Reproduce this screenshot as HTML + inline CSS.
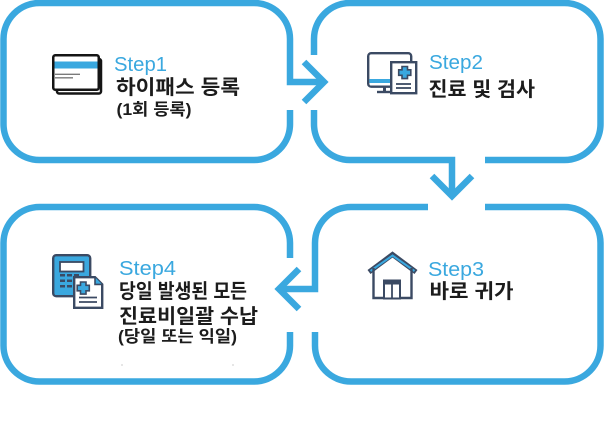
<!DOCTYPE html>
<html>
<head>
<meta charset="utf-8">
<style>
  html,body{margin:0;padding:0;background:#fff;}
  body{width:604px;height:430px;overflow:hidden;}
  svg{display:block;}
  .step{font-family:"Liberation Sans","Noto Sans CJK KR",sans-serif;font-size:20.5px;fill:#3aa8df;}
  .ko{font-family:"Liberation Sans","Noto Sans CJK KR",sans-serif;font-weight:bold;font-size:20px;fill:#1c1c1c;}
  .ks{font-family:"Liberation Sans","Noto Sans CJK KR",sans-serif;font-weight:bold;font-size:16.5px;fill:#1c1c1c;}
</style>
</head>
<body>
<svg width="604" height="430" viewBox="0 0 604 430" xmlns="http://www.w3.org/2000/svg">
  <g fill="none" stroke="#3aa8df" stroke-width="6.5" stroke-linejoin="miter" stroke-linecap="butt">
    <!-- Box 1 -->
    <path d="M290,110 V124 A36,36 0 0 1 254,160 H39.5 A36,36 0 0 1 3.5,124 V39 A36,36 0 0 1 39.5,3 H254 A36,36 0 0 1 290,39 V82 H324"/>
    <path d="M304,62 L324,82 L304,102"/>
    <!-- Box 2 -->
    <path d="M314,55 V39 A36,36 0 0 1 350,3 H564.5 A36,36 0 0 1 600.5,39 V124 A36,36 0 0 1 564.5,160 H485"/>
    <path d="M314,110 V124 A36,36 0 0 0 350,160 H452 V196"/>
    <path d="M432,176 L452,196 L472,176"/>
    <!-- Box 3 -->
    <path d="M428,207 H351 A36,36 0 0 0 315,243 V289 H279"/>
    <path d="M299,269 L279,289 L299,309"/>
    <path d="M485,207 H564.5 A36,36 0 0 1 600.5,243 V345 A36,36 0 0 1 564.5,381.5 H351 A36,36 0 0 1 315,345 V332"/>
    <!-- Box 4 -->
    <path d="M290,258 V243 A36,36 0 0 0 254,207 H39.5 A36,36 0 0 0 3.5,243 V345 A36,36 0 0 0 39.5,381.5 H254 A36,36 0 0 0 290,345 V332"/>
  </g>

  <!-- Icon 1: cards -->
  <rect x="57" y="59" width="44" height="34.5" rx="2" fill="#fff" stroke="#151515" stroke-width="2.5"/>
  <rect x="53.25" y="55.25" width="45.5" height="34.5" rx="2" fill="#fff" stroke="#151515" stroke-width="2.5"/>
  <rect x="54.5" y="61.5" width="43" height="7" fill="#3aa8df"/>
  <line x1="55" y1="74.3" x2="80" y2="74.3" stroke="#7a7a7a" stroke-width="1.3"/>
  <line x1="55" y1="77.8" x2="73" y2="77.8" stroke="#7a7a7a" stroke-width="1.3"/>

  <!-- Icon 2: monitor + document -->
  <rect x="368.2" y="53.2" width="43" height="33.5" rx="3" fill="#fff" stroke="#3b4a63" stroke-width="2.4"/>
  <rect x="369.4" y="79" width="22" height="4" fill="#3aa8df"/>
  <rect x="383" y="87" width="3" height="4" fill="#3b4a63"/>
  <line x1="377" y1="92" x2="392" y2="92" stroke="#3b4a63" stroke-width="2.4"/>
  <rect x="391.2" y="62.2" width="25" height="31" fill="#fff" stroke="#3b4a63" stroke-width="2.4"/>
  <path d="M402,66.5 h5.5 v3.3 h3.3 v5.5 h-3.3 v3.3 h-5.5 v-3.3 h-3.3 v-5.5 h3.3 z" fill="#3aa8df" stroke="#3b4a63" stroke-width="1.6"/>
  <line x1="396" y1="84" x2="411" y2="84" stroke="#3b4a63" stroke-width="1.8"/>
  <line x1="396" y1="88" x2="411" y2="88" stroke="#3b4a63" stroke-width="1.8"/>

  <!-- Icon 3: house -->
  <path d="M369,272 L392.5,254.5 L416,272" fill="none" stroke="#3b4a63" stroke-width="5" stroke-linejoin="miter"/>
  <path d="M370.5,271 L392.5,255.5 L414.5,271" fill="none" stroke="#3aa8df" stroke-width="2"/>
  <path d="M373.5,268 V298 H411.5 V268" fill="none" stroke="#3b4a63" stroke-width="2.4"/>
  <rect x="384" y="280.5" width="16" height="18" fill="#fff" stroke="#3b4a63" stroke-width="2"/>
  <rect x="385" y="281.5" width="14" height="3" fill="#3b4a63"/>
  <line x1="392" y1="284" x2="392" y2="298" stroke="#3b4a63" stroke-width="1.8"/>

  <!-- Icon 4: calculator + document -->
  <rect x="53.2" y="255.2" width="37" height="41" rx="3" fill="#3aa8df" stroke="#3b4a63" stroke-width="2.4"/>
  <rect x="60" y="262" width="23.5" height="9.5" fill="#fff" stroke="#3b4a63" stroke-width="1.8"/>
  <g fill="#3b4a63">
    <rect x="60" y="274" width="5" height="2.5"/><rect x="67" y="274" width="5" height="2.5"/><rect x="74" y="274" width="5" height="2.5"/>
    <rect x="60" y="279.5" width="5" height="2.5"/><rect x="67" y="279.5" width="5" height="2.5"/>
    <rect x="60" y="285" width="5" height="2.5"/><rect x="67" y="285" width="5" height="2.5"/>
  </g>
  <path d="M74.2,277.2 H95 L102.2,284.4 V307.8 H74.2 Z" fill="#fff" stroke="#3b4a63" stroke-width="2.4" stroke-linejoin="miter"/>
  <path d="M95,277.2 V284.4 H102.2" fill="#3aa8df" stroke="#3b4a63" stroke-width="1.6"/>
  <path d="M80.5,282 h5.5 v3.3 h3.3 v5.5 h-3.3 v3.3 h-5.5 v-3.3 h-3.3 v-5.5 h3.3 z" fill="#3aa8df" stroke="#3b4a63" stroke-width="1.6"/>
  <line x1="79" y1="297.5" x2="97" y2="297.5" stroke="#3b4a63" stroke-width="1.8"/>
  <line x1="79" y1="302" x2="97" y2="302" stroke="#3b4a63" stroke-width="1.8"/>

  <!-- Text -->
  <text class="step" x="114" y="71" textLength="53" lengthAdjust="spacingAndGlyphs">Step1</text>
  <text class="ko" x="116" y="94" textLength="124" lengthAdjust="spacingAndGlyphs">하이패스 등록</text>
  <text class="ks" x="116.5" y="115" textLength="75" lengthAdjust="spacingAndGlyphs">(1회 등록)</text>

  <text class="step" x="429" y="69" textLength="54" lengthAdjust="spacingAndGlyphs">Step2</text>
  <text class="ko" x="428.5" y="96" textLength="106.5" lengthAdjust="spacingAndGlyphs">진료 및 검사</text>

  <text class="step" x="428" y="276" textLength="56" lengthAdjust="spacingAndGlyphs">Step3</text>
  <text class="ko" x="429.5" y="298" textLength="84" lengthAdjust="spacingAndGlyphs">바로 귀가</text>

  <text class="step" x="119" y="275" textLength="57" lengthAdjust="spacingAndGlyphs">Step4</text>
  <text class="ko" x="119" y="298" textLength="128" lengthAdjust="spacingAndGlyphs">당일 발생된 모든</text>
  <text class="ko" x="119" y="323" textLength="139" lengthAdjust="spacingAndGlyphs">진료비일괄 수납</text>
  <text class="ks" x="118" y="342" textLength="119" lengthAdjust="spacingAndGlyphs">(당일 또는 익일)</text>

  <rect x="121.5" y="364.5" width="1" height="1" fill="#999"/>
  <rect x="232.5" y="364.5" width="1" height="1" fill="#999"/>
</svg>
</body>
</html>
